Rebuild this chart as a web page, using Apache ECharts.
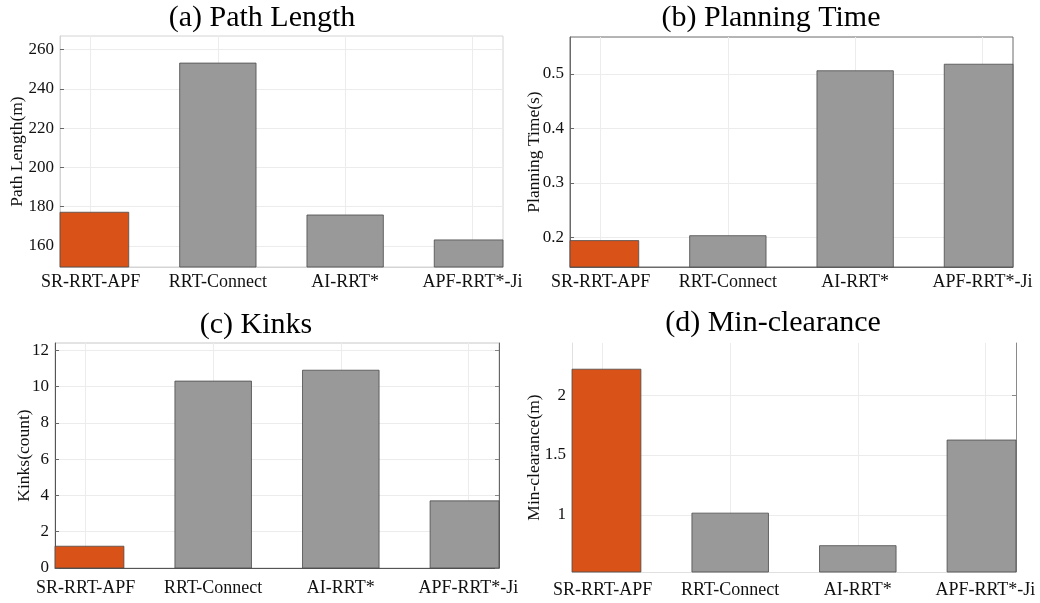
<!DOCTYPE html>
<html>
<head>
<meta charset="utf-8">
<script src="https://cdn.jsdelivr.net/npm/echarts@6/dist/echarts.min.js"></script>
<style>
html,body{margin:0;padding:0;background:#fff;}
#chart{width:1040px;height:603px;}
</style>
</head>
<body>
<div id="chart"></div>
<script>
// ---- data ----
const categories = ['SR-RRT-APF', 'RRT-Connect', 'AI-RRT*', 'APF-RRT*-Ji'];
const pathLength = [177.2, 253.2, 175.8, 163.1];
const planningTime = [0.194, 0.203, 0.506, 0.518];
const kinks = [1.2, 10.3, 10.9, 3.7];
const minClearance = [2.217, 1.014, 0.742, 1.625];

const pathTicks = [160, 180, 200, 220, 240, 260];
const timeTicks = [0.2, 0.3, 0.4, 0.5];
const kinkTicks = [0, 2, 4, 6, 8, 10, 12];
const clearTicks = [1, 1.5, 2];

const titles = ['(a) Path Length', '(b) Planning Time', '(c) Kinks', '(d) Min-clearance'];
const yNames = ['Path Length(m)', 'Planning Time(s)', 'Kinks(count)', 'Min-clearance(m)'];

// ---- styling / layout ----
const FONT = '"Liberation Serif", "Times New Roman", serif';
const ORANGE = '#D95319';
const GRAY = '#999999';
const BAR_FRACTION = 0.6;
const catPos = categories.map((c, i) => i + 1);

const panels = [
  {grid: {left: 60, top: 36, width: 443, height: 231}, data: pathLength, ticks: pathTicks,
   ymin: 149.3, ymax: 267, border: '#d4d4d4', axisColor: '#d4d4d4', rightColor: null, nameGap: 34, labelMargin: 6,
   title: {x: 262, y: 18}},
  {grid: {left: 570, top: 37, width: 443, height: 230}, data: planningTime, ticks: timeTicks,
   ymin: 0.1455, ymax: 0.568, border: '#6a6a6a', axisColor: '#6a6a6a', rightColor: null, nameGap: 27, labelMargin: 6,
   title: {x: 771, y: 18}},
  {grid: {left: 55, top: 343, width: 444, height: 225}, data: kinks, ticks: kinkTicks,
   ymin: 0, ymax: 12.4, border: '#c8c8c8', axisColor: '#555555', rightColor: '#666666', nameGap: 22, labelMargin: 11,
   title: {x: 256, y: 325}},
  {grid: {left: 572, top: 343, width: 444, height: 229}, data: minClearance, ticks: clearTicks,
   ymin: 0.522, ymax: 2.436, border: '#ffffff', axisColor: '#e0e0e0', rightColor: '#8a8a8a', nameGap: 29, labelMargin: 9,
   title: {x: 773, y: 323}}
];

function makeRenderItem(ymin) {
  return function (params, api) {
    const xv = api.value(0), yv = api.value(1);
    const top = api.coord([xv, yv]);
    const base = api.coord([xv, ymin]);
    const w = api.size([BAR_FRACTION, 0])[0];
    const cs = params.coordSys;
    const rect = echarts.graphic.clipRectByRect(
      {x: top[0] - w / 2, y: top[1], width: w, height: base[1] - top[1]},
      {x: cs.x, y: cs.y, width: cs.width, height: cs.height});
    if (!rect) return null;
    return {
      type: 'rect', shape: rect,
      style: {fill: api.visual('color'), stroke: '#4a4a4a', lineWidth: 0.8}
    };
  };
}

const grids = [], xAxes = [], yAxes = [], series = [], graphics = [];
panels.forEach((p, i) => {
  grids.push(Object.assign({show: true, borderColor: p.border, borderWidth: 1,
    backgroundColor: 'transparent', outerBoundsMode: 'none', containLabel: false}, p.grid));
  xAxes.push({
    gridIndex: i, type: 'value', min: 0.76, max: 4.24,
    axisLine: {show: true, lineStyle: {color: p.axisColor, width: 1}},
    axisTick: {show: true, inside: true, length: 4, customValues: catPos, lineStyle: {color: '#666'}},
    axisLabel: {customValues: catPos, margin: p.labelMargin, color: '#111', fontFamily: FONT, fontSize: 18,
      formatter: v => categories[Math.round(v) - 1] || ''},
    splitLine: {show: true, lineStyle: {color: '#ececec', width: 1}}
  });
  yAxes.push({
    gridIndex: i, type: 'value', min: p.ymin, max: p.ymax,
    name: yNames[i], nameLocation: 'middle', nameGap: p.nameGap, nameMoveOverlap: false,
    nameTextStyle: {fontFamily: FONT, fontSize: 17.5, color: '#111'},
    axisLine: {show: true, lineStyle: {color: p.axisColor, width: 1}},
    axisTick: {show: true, inside: true, length: 4, customValues: p.ticks, lineStyle: {color: '#666'}},
    axisLabel: {customValues: p.ticks, margin: 6, color: '#111', fontFamily: FONT, fontSize: 17},
    splitLine: {show: true, lineStyle: {color: '#ececec', width: 1}}
  });
  series.push({
    type: 'custom', xAxisIndex: i, yAxisIndex: i,
    renderItem: makeRenderItem(p.ymin),
    encode: {x: 0, y: 1},
    data: p.data.map((v, k) => ({value: [catPos[k], v],
      itemStyle: {color: k === 0 ? ORANGE : GRAY}})),
    emphasis: {disabled: true}, animation: false
  });
  graphics.push({
    type: 'text', x: p.title.x, y: p.title.y,
    style: {text: titles[i], font: '30px ' + FONT, fill: '#000', textAlign: 'center', textVerticalAlign: 'middle'}
  });
});

// right-hand box edges for panels (c) and (d)
panels.forEach((p, i) => {
  if (!p.rightColor) return;
  yAxes.push({
    gridIndex: i, type: 'value', position: 'right', min: p.ymin, max: p.ymax,
    axisLine: {show: true, onZero: false, lineStyle: {color: p.rightColor, width: 1}},
    axisTick: {show: true, inside: true, length: 4, customValues: p.ticks, lineStyle: {color: '#888'}},
    axisLabel: {show: false}, splitLine: {show: false}
  });
});

const chart = echarts.init(document.getElementById('chart'), null, {renderer: 'canvas'});
chart.setOption({
  animation: false,
  backgroundColor: '#fff',
  grid: grids, xAxis: xAxes, yAxis: yAxes, series: series,
  graphic: graphics
});
</script>
</body>
</html>
